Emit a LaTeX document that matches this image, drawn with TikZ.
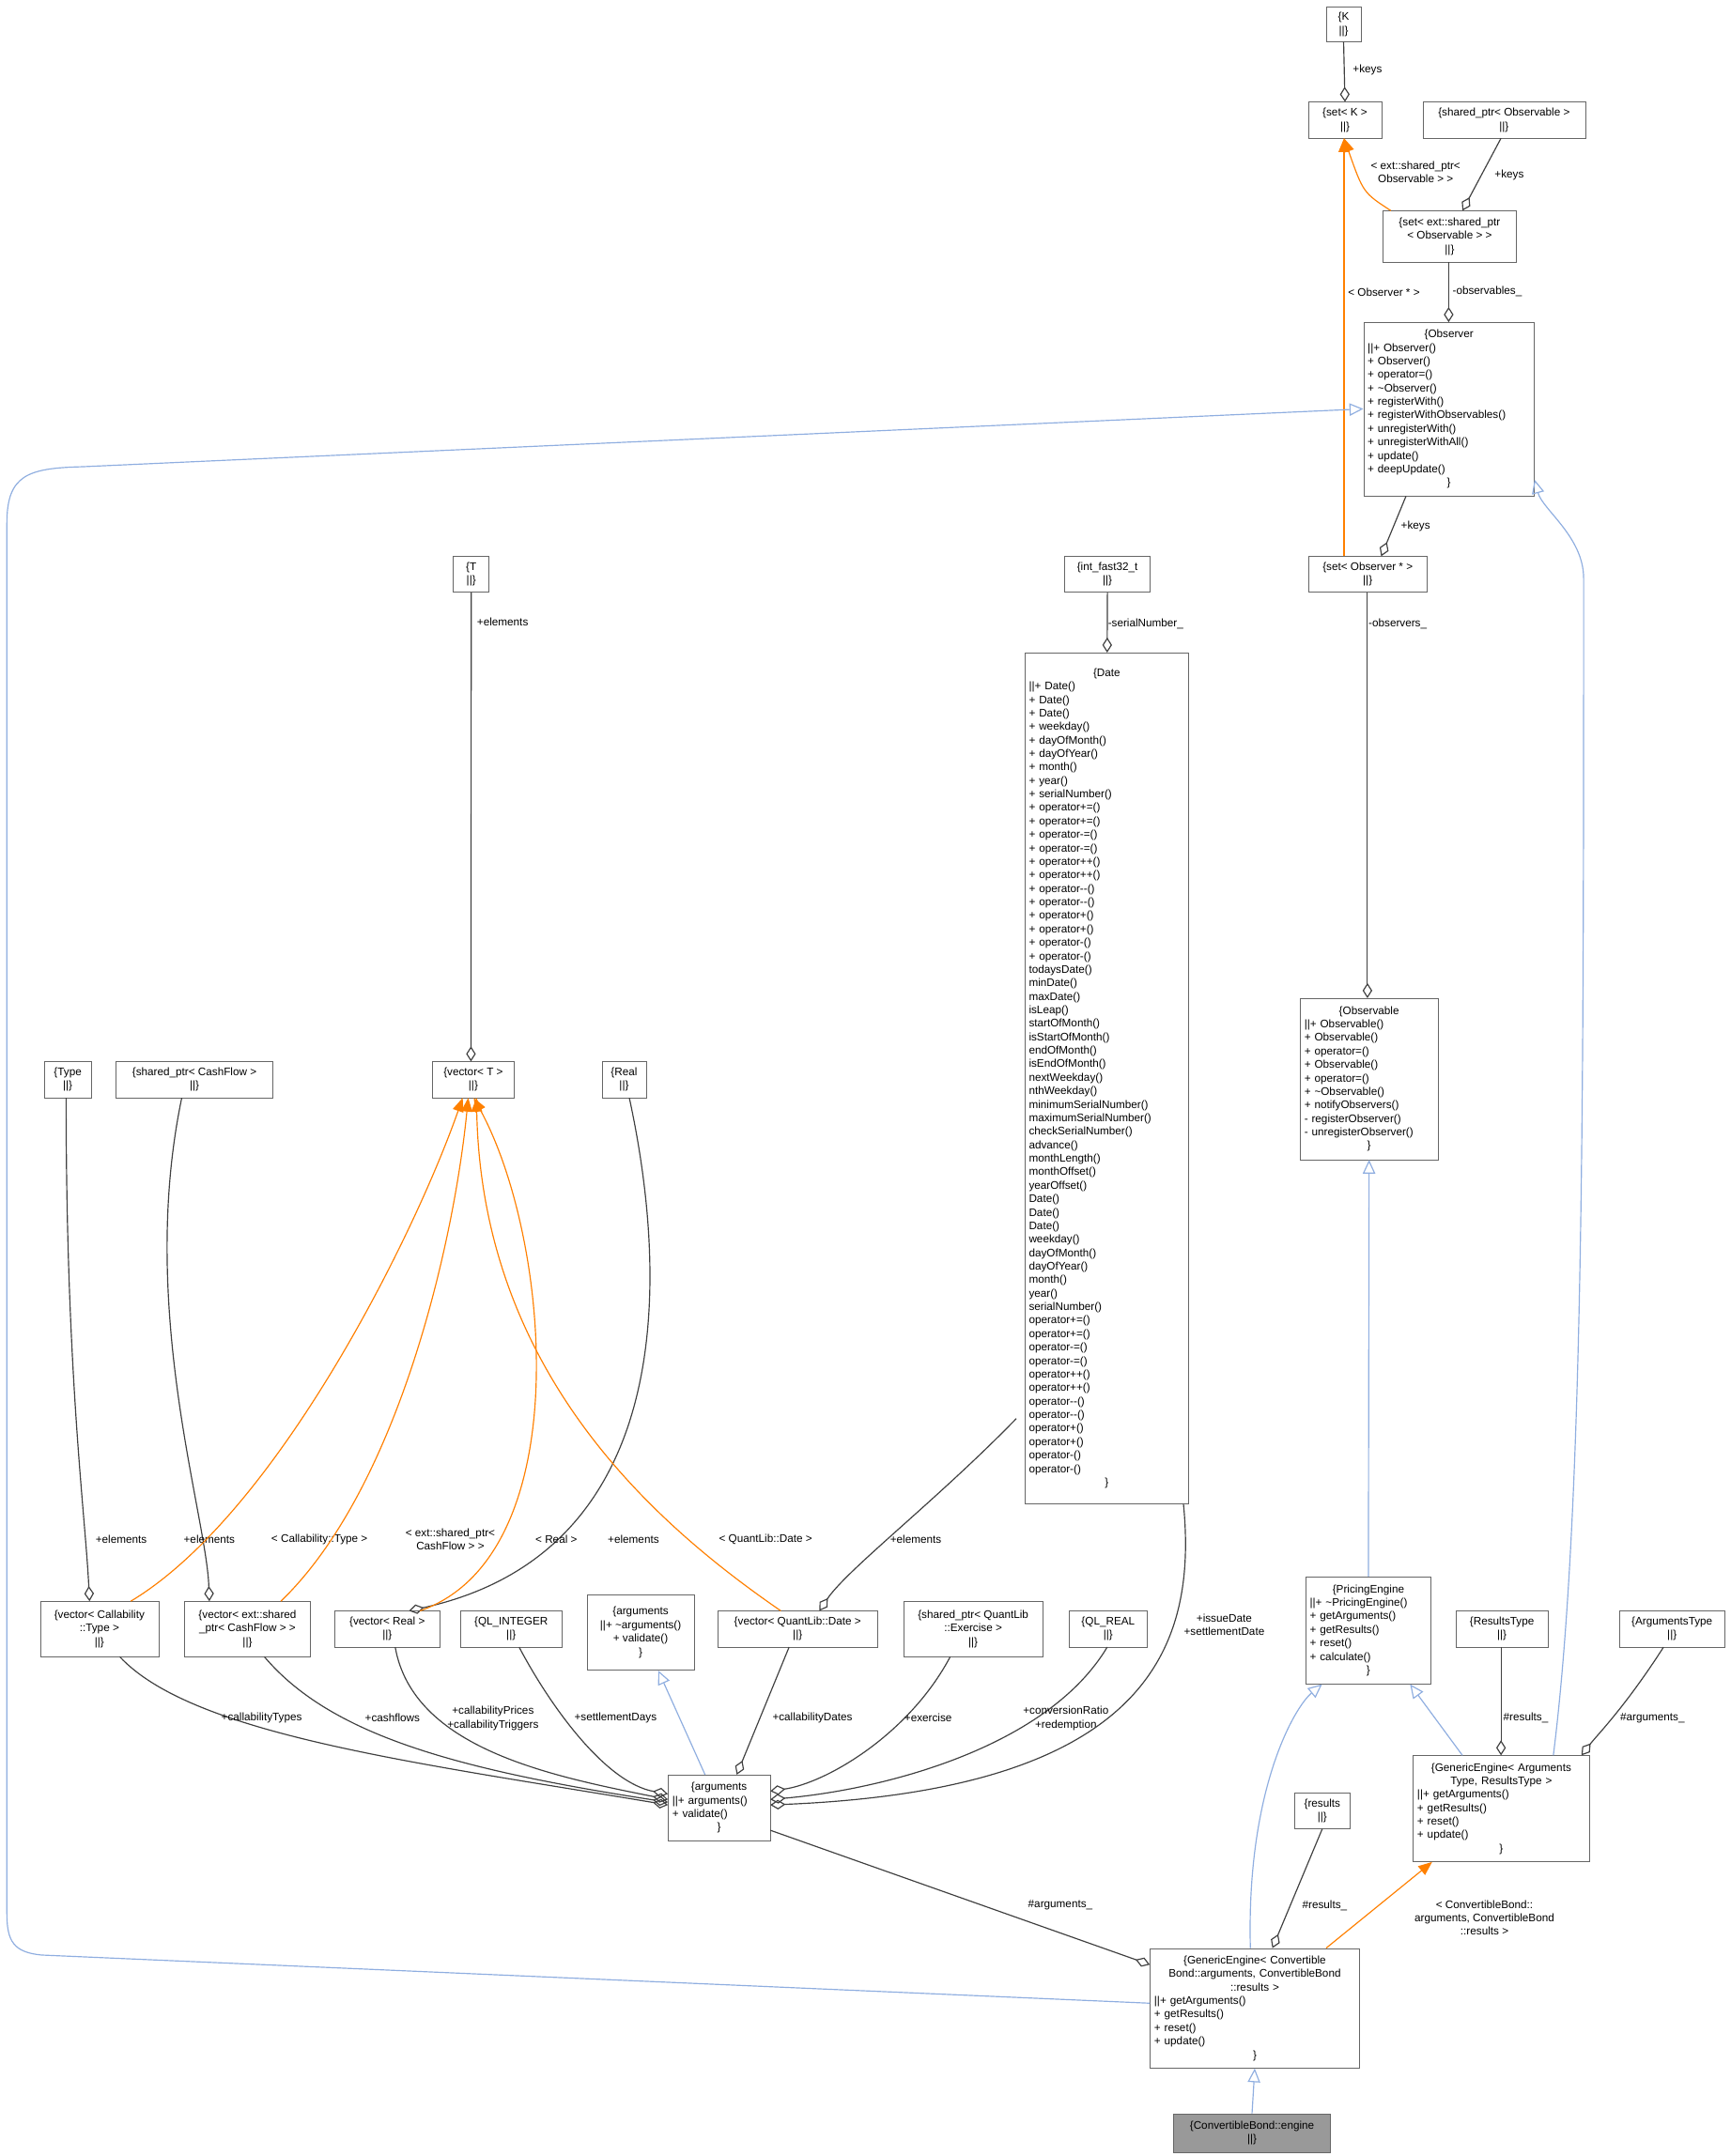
\documentclass[tikz,border=0pt]{standalone}
\usepackage{fontspec}
\setmainfont{Liberation Sans}
\usetikzlibrary{arrows.meta,calc}
\newcommand{\ctr}[1]{\hfill#1\hfill\null}
\begin{document}
\begin{tikzpicture}[x=1pt,y=-1pt,
  font=\fontsize{8}{9.8}\selectfont,
  box/.style={draw=black!60,fill=white,inner sep=1pt,anchor=north west,align=center},
  mbox/.style={box,align=left,inner xsep=3pt},
  lbl/.style={align=center,inner sep=0pt},
  agg/.style={draw=black!75,thick,-{Diamond[open,length=11pt,width=7pt]}},
  inh/.style={draw=cyan!50!blue!45!white,thick,-{Triangle[open,length=10pt,width=9pt]}},
  tpl/.style={draw=orange,thick,-{Triangle[length=10pt,width=8pt]}}]
\useasboundingbox[fill=white] (0,0) rectangle (1257,1566);
\def\bx#1#2#3#4#5#6{\node[box,minimum width=#4-#2,minimum height=#5-#3] (#1) at (#2,#3) {#6};}
\def\mb#1#2#3#4#5#6{\node[mbox,text width=#4-#2-6,minimum height=#5-#3] (#1) at (#2,#3) {#6};}
\bx{K}{963}{5}{988}{30}{\{K\\\textbar\textbar\}}
\bx{setK}{950}{74}{1003}{100}{\{set< K >\\\textbar\textbar\}}
\bx{sobs}{1033}{74}{1151}{100}{\{shared\_ptr< Observable >\\\textbar\textbar\}}
\bx{sets}{1004}{153}{1101}{190}{\{set< ext::shared\_ptr\\< Observable > >\\\textbar\textbar\}}
\mb{obs}{990}{234}{1114}{360}{\ctr{\{Observer}\\\textbar\textbar+ Observer()\\+ Observer()\\+ operator=()\\+ \textasciitilde Observer()\\+ registerWith()\\+ registerWithObservables()\\+ unregisterWith()\\+ unregisterWithAll()\\+ update()\\+ deepUpdate()\\\ctr{\}}}
\bx{seto}{950}{404}{1036}{430}{\{set< Observer * >\\\textbar\textbar\}}
\mb{obl}{944}{725}{1044}{842}{\ctr{\{Observable}\\\textbar\textbar+ Observable()\\+ Observable()\\+ operator=()\\+ Observable()\\+ operator=()\\+ \textasciitilde Observable()\\+ notifyObservers()\\- registerObserver()\\- unregisterObserver()\\\ctr{\}}}
\bx{T}{329}{404}{355}{430}{\{T\\\textbar\textbar\}}
\bx{ift}{773}{404}{835}{430}{\{int\_fast32\_t\\\textbar\textbar\}}
\mb{date}{744}{474}{863}{1092}{\ctr{\{Date}\\\textbar\textbar+ Date()\\+ Date()\\+ Date()\\+ weekday()\\+ dayOfMonth()\\+ dayOfYear()\\+ month()\\+ year()\\+ serialNumber()\\+ operator+=()\\+ operator+=()\\+ operator-=()\\+ operator-=()\\+ operator++()\\+ operator++()\\+ operator-{}-()\\+ operator-{}-()\\+ operator+()\\+ operator+()\\+ operator-()\\+ operator-()\\* todaysDate()\\* minDate()\\* maxDate()\\* isLeap()\\* startOfMonth()\\* isStartOfMonth()\\* endOfMonth()\\* isEndOfMonth()\\* nextWeekday()\\* nthWeekday()\\* minimumSerialNumber()\\* maximumSerialNumber()\\* checkSerialNumber()\\* advance()\\* monthLength()\\* monthOffset()\\* yearOffset()\\* Date()\\* Date()\\* Date()\\* weekday()\\* dayOfMonth()\\* dayOfYear()\\* month()\\* year()\\* serialNumber()\\* operator+=()\\* operator+=()\\* operator-=()\\* operator-=()\\* operator++()\\* operator++()\\* operator-{}-()\\* operator-{}-()\\* operator+()\\* operator+()\\* operator-()\\* operator-()\\\ctr{\}}}
\bx{type}{32}{771}{66}{797}{\{Type\\\textbar\textbar\}}
\bx{scf}{84}{771}{198}{797}{\{shared\_ptr< CashFlow >\\\textbar\textbar\}}
\bx{vT}{314}{771}{373}{797}{\{vector< T >\\\textbar\textbar\}}
\bx{real}{437}{771}{469}{797}{\{Real\\\textbar\textbar\}}
\bx{vcall}{29}{1163}{115}{1203}{\{vector< Callability\\::Type >\\\textbar\textbar\}}
\bx{vsh}{134}{1163}{225}{1203}{\{vector< ext::shared\\\_ptr< CashFlow > >\\\textbar\textbar\}}
\bx{vreal}{243}{1170}{319}{1196}{\{vector< Real >\\\textbar\textbar\}}
\bx{qli}{334}{1170}{408}{1196}{\{QL\_INTEGER\\\textbar\textbar\}}
\bx{abase}{426}{1158}{504}{1213}{\{arguments\\\textbar\textbar+ \textasciitilde arguments()\\+ validate()\\\}}
\bx{vdate}{521}{1170}{637}{1196}{\{vector< QuantLib::Date >\\\textbar\textbar\}}
\bx{sex}{656}{1163}{757}{1203}{\{shared\_ptr< QuantLib\\::Exercise >\\\textbar\textbar\}}
\bx{qlr}{776}{1170}{833}{1196}{\{QL\_REAL\\\textbar\textbar\}}
\mb{pe}{948}{1145}{1039}{1223}{\ctr{\{PricingEngine}\\\textbar\textbar+ \textasciitilde PricingEngine()\\+ getArguments()\\+ getResults()\\+ reset()\\+ calculate()\\\ctr{\}}}
\bx{rt}{1057}{1170}{1124}{1196}{\{ResultsType\\\textbar\textbar\}}
\bx{at}{1176}{1170}{1252}{1196}{\{ArgumentsType\\\textbar\textbar\}}
\mb{args}{485}{1289}{559}{1337}{\ctr{\{arguments}\\\textbar\textbar+ arguments()\\+ validate()\\\ctr{\}}}
\mb{gea}{1026}{1275}{1154}{1352}{\ctr{\{GenericEngine< Arguments}\\\ctr{Type, ResultsType >}\\\textbar\textbar+ getArguments()\\+ getResults()\\+ reset()\\+ update()\\\ctr{\}}}
\bx{res}{940}{1302}{980}{1328}{\{results\\\textbar\textbar\}}
\mb{gec}{835}{1415}{987}{1502}{\ctr{\{GenericEngine< Convertible}\\\ctr{Bond::arguments, ConvertibleBond}\\\ctr{::results >}\\\textbar\textbar+ getArguments()\\+ getResults()\\+ reset()\\+ update()\\\ctr{\}}}
\node[box,fill=black!40,minimum width=114,minimum height=28] (eng) at (852,1535) {\{ConvertibleBond::engine\\\textbar\textbar\}};
% edges
\draw[agg] (K.south) -- (setK.north);
\node[lbl] (l1) at (993,51) {+keys};
\draw[agg] ($(sobs.south west)+(57,0)$) -- ($(sets.north west)+(58,0)$);
\node[lbl] (l2) at (1096,127) {+keys};
\draw[tpl] ($(sets.north west)+(6,0)$) .. controls (990,140) .. ($(setK.south west)+(26,0)$);
\node[lbl] (l3) at (1028,125) {< ext::shared\_ptr<\\Observable > >};
\draw[agg] ($(sets.south west)+(48,0)$) -- ($(obs.north west)+(62,0)$);
\node[lbl] (l4) at (1080,212) {-observables\_};
\draw[tpl] ($(seto.north west)+(26,0)$) -- ($(setK.south west)+(26,0)$);
\node[lbl] (l5) at (1005,212) {< Observer * >};
\draw[agg] ($(obs.south west)+(31,0)$) -- ($(seto.north west)+(53,0)$);
\node[lbl] (l6) at (1028,382) {+keys};
\draw[agg] ($(seto.south west)+(43,0)$) -- ($(obl.north west)+(49,0)$);
\node[lbl] (l7) at (1015,453) {-observers\_};
\draw[agg] (ift.south) -- ($(date.north west)+(60,0)$);
\node[lbl] (l8) at (832,453) {-serialNumber\_};
\draw[agg] (T.south) -- ($(vT.north west)+(28,0)$);
\node[lbl] (l9) at (365,452) {+elements};
\draw[agg] ($(type.south west)+(16,0)$) .. controls (48,1000) and (62,1100) .. ($(vcall.north west)+(36,0)$);
\node[lbl] (l10) at (88,1118) {+elements};
\draw[agg] ($(scf.south west)+(48,0)$) .. controls (100,950) and (150,1100) .. ($(vsh.north west)+(18,0)$);
\node[lbl] (l11) at (152,1118) {+elements};
\draw[agg] ($(real.south west)+(20,0)$) .. controls (490,950) and (480,1130) .. ($(vreal.north west)+(54,0)$);
\node[lbl] (l12) at (460,1118) {+elements};
\draw[agg] ($(date.south west)+(-6,-62)$) .. controls (680,1090) and (615,1140) .. ($(vdate.north west)+(74,0)$);
\node[lbl] (l13) at (665,1118) {+elements};
\draw[tpl] ($(vcall.north west)+(66,0)$) .. controls (200,1100) and (300,900) .. ($(vT.south west)+(22,0)$);
\node[lbl] (l14) at (232,1118) {< Callability::Type >};
\draw[tpl] ($(vsh.north west)+(70,0)$) .. controls (290,1080) and (330,900) .. ($(vT.south west)+(26,0)$);
\node[lbl] (l15) at (327,1118) {< ext::shared\_ptr<\\CashFlow > >};
\draw[tpl] ($(vreal.north west)+(62,0)$) .. controls (420,1130) and (400,900) .. ($(vT.south west)+(30,0)$);
\node[lbl] (l16) at (404,1118) {< Real >};
\draw[tpl] ($(vdate.north west)+(46,0)$) .. controls (480,1110) and (350,1000) .. ($(vT.south west)+(32,0)$);
\node[lbl] (l17) at (556,1118) {< QuantLib::Date >};
\draw[inh] ($(args.north west)+(27,0)$) -- ($(abase.south west)+(52,0)$);
\draw[agg] ($(vcall.south west)+(58,0)$) .. controls (140,1260) and (300,1280) .. ($(args.north west)+(0,22)$);
\node[lbl] (l18) at (190,1248) {+callabilityTypes};
\draw[agg] ($(vsh.south west)+(58,0)$) .. controls (240,1260) and (330,1285) .. ($(args.north west)+(0,20)$);
\node[lbl] (l19) at (285,1248) {+cashflows};
\draw[agg] ($(vreal.south west)+(44,0)$) .. controls (300,1270) and (400,1290) .. ($(args.north west)+(0,18)$);
\node[lbl] (l20) at (358,1248) {+callabilityPrices\\+callabilityTriggers};
\draw[agg] ($(qli.south west)+(43,0)$) .. controls (400,1240) and (440,1295) .. ($(args.north west)+(0,14)$);
\node[lbl] (l21) at (447,1248) {+settlementDays};
\draw[agg] ($(vdate.south west)+(52,0)$) -- ($(args.north west)+(50,0)$);
\node[lbl] (l22) at (590,1248) {+callabilityDates};
\draw[agg] ($(sex.south west)+(34,0)$) .. controls (660,1260) and (600,1295) .. ($(args.north east)+(0,12)$);
\node[lbl] (l23) at (674,1248) {+exercise};
\draw[agg] ($(qlr.south west)+(28,0)$) .. controls (760,1270) and (640,1300) .. ($(args.north east)+(0,18)$);
\node[lbl] (l24) at (774,1248) {+conversionRatio\\+redemption};
\draw[agg] ($(date.south east)+(-4,0)$) .. controls (870,1200) and (830,1300) .. ($(args.north east)+(0,22)$);
\node[lbl] (l25) at (889,1180) {+issueDate\\+settlementDate};
\draw[agg] ($(args.south east)+(0,-8)$) -- ($(gec.north west)+(0,12)$);
\node[lbl] (l26) at (770,1384) {\#arguments\_};
\draw[agg] (res.south) -- ($(gec.north west)+(89,0)$);
\node[lbl] (l27) at (962,1384) {\#results\_};
\draw[tpl] ($(gec.north west)+(128,0)$) -- ($(gea.south west)+(14,0)$);
\node[lbl] (l28) at (1078,1393) {< ConvertibleBond::\\arguments, ConvertibleBond\\::results >};
\draw[inh] ($(gec.north west)+(73,0)$) .. controls (905,1300) and (940,1240) .. ($(pe.south west)+(12,0)$);
\draw[inh] ($(gea.north west)+(36,0)$) -- ($(pe.south west)+(76,0)$);
\draw[inh] (pe.north) -- (obl.south);
\draw[agg] ($(rt.south west)+(33,0)$) -- ($(gea.north west)+(64,0)$);
\node[lbl] (l29) at (1108,1248) {\#results\_};
\draw[agg] ($(at.south west)+(32,0)$) .. controls (1180,1240) and (1160,1260) .. ($(gea.north east)+(-6,0)$);
\node[lbl] (l30) at (1200,1248) {\#arguments\_};
\draw[inh] ($(gea.north west)+(102,0)$) .. controls (1150,1100) and (1150,800) .. (1150,420) .. controls (1150,390) and (1120,370) .. ($(obs.south east)+(0,-12)$);
\draw[inh] ($(gec.north west)+(0,40)$) -- (30,1420) .. controls (10,1418) and (5,1410) .. (5,1390) -- (5,380) .. controls (5,345) and (20,340) .. (60,339) -- ($(obs.north west)+(0,63)$);
\draw[inh] (eng.north) -- (gec.south);
\end{tikzpicture}
\end{document}
